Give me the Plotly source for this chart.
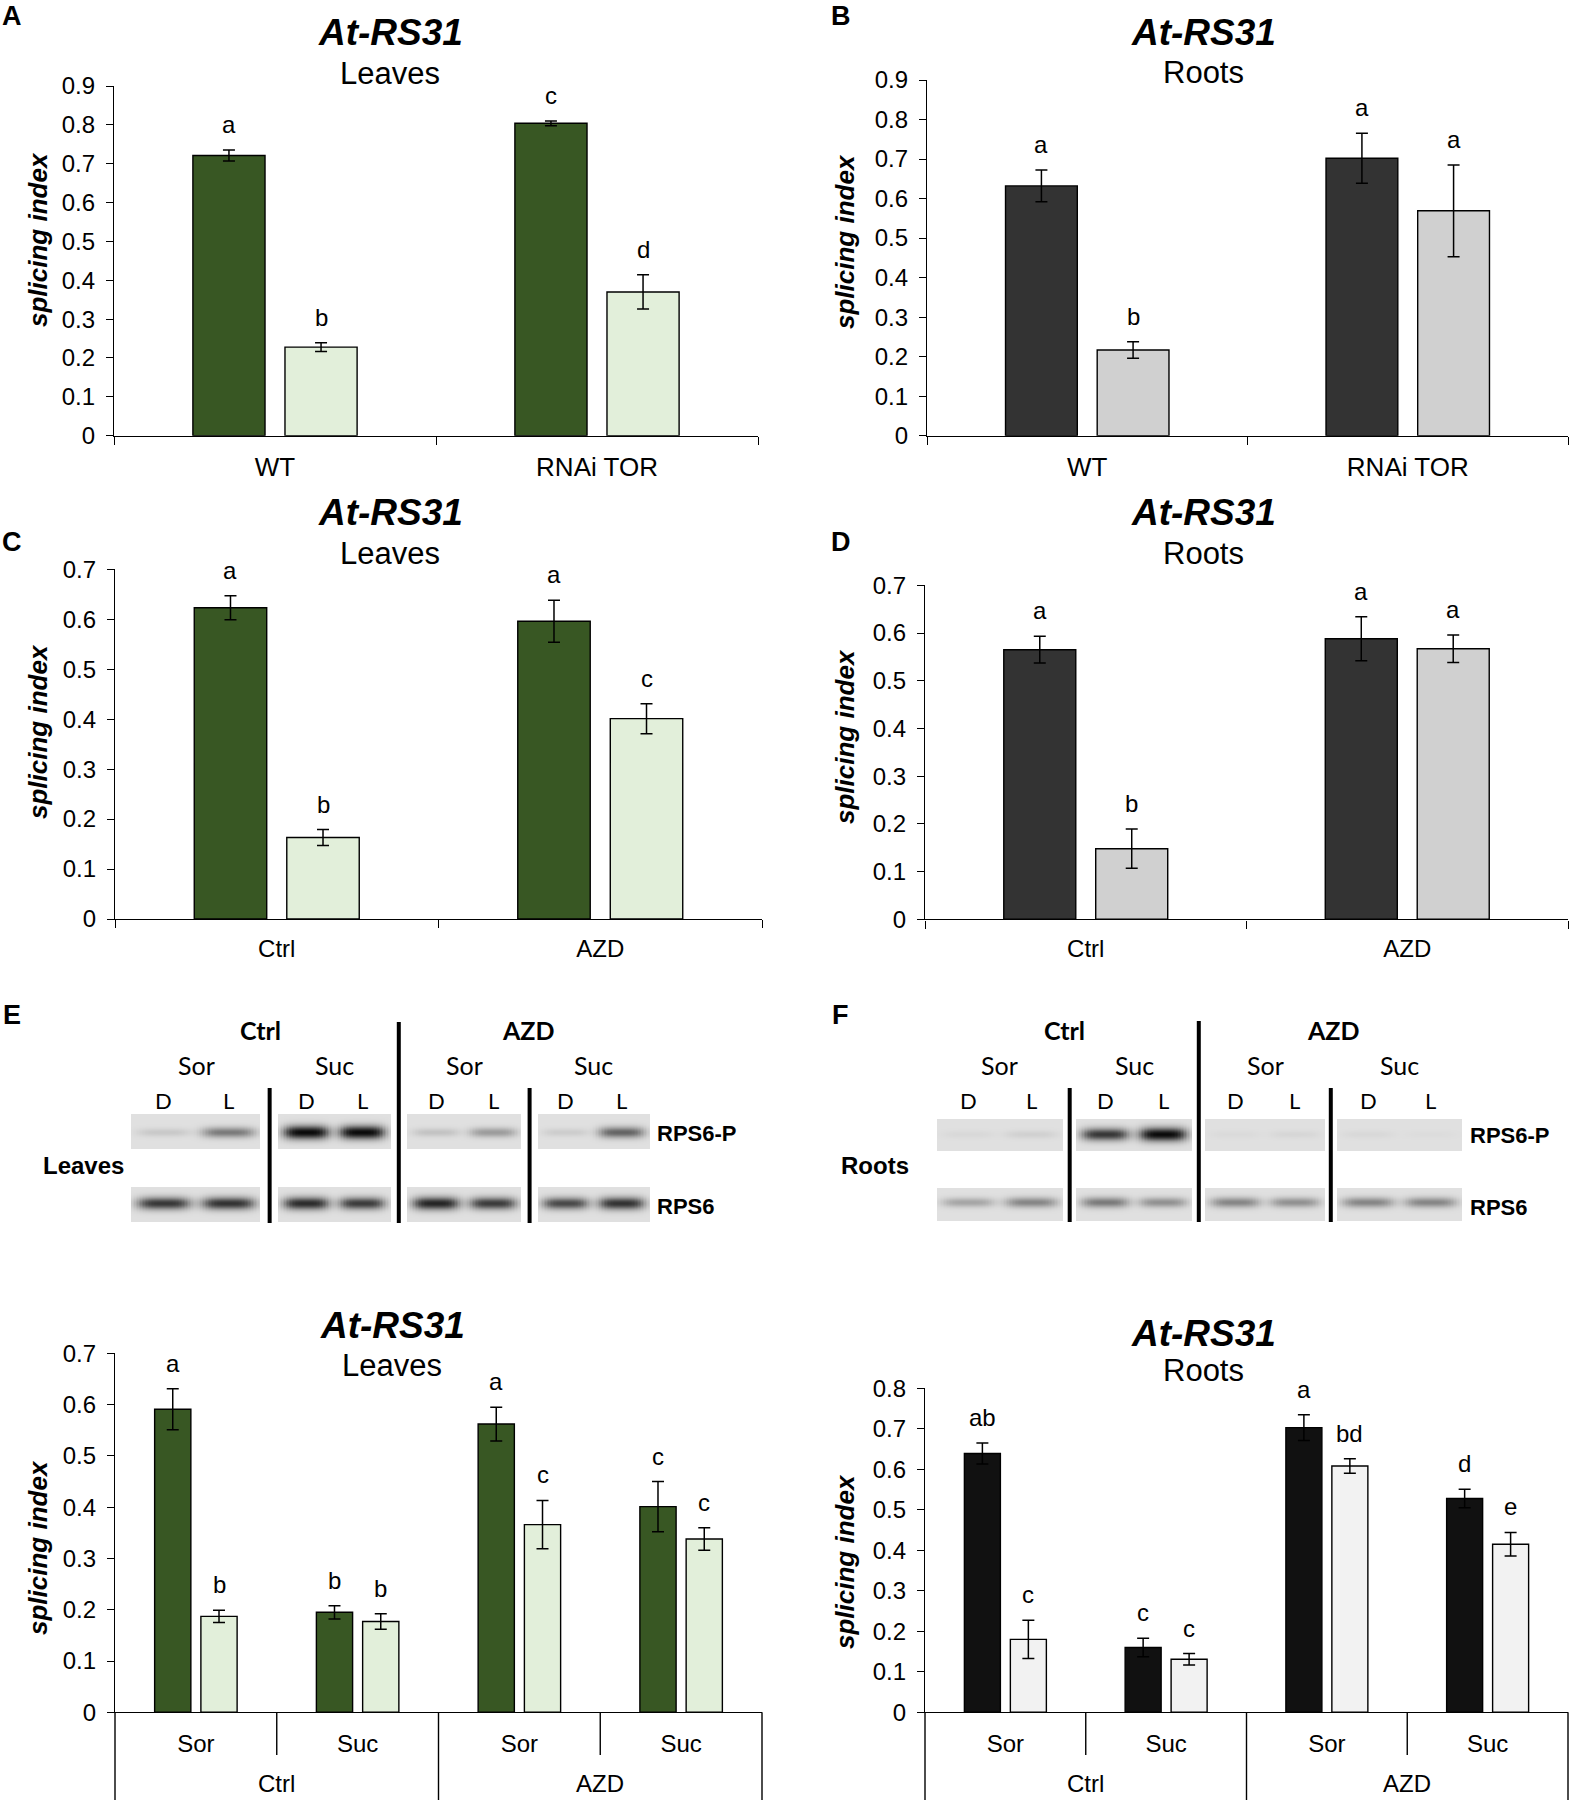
import numpy as np
import plotly.graph_objects as go

W, H = 1571, 1800
FONT = "Liberation Sans, Arial, sans-serif"
BLOT_FONT = "Lato, Open Sans, sans-serif"

# ---------------- data ----------------
# A / B : WT vs RNAi TOR
genotypes = ["WT", "RNAi TOR"]
a_dark = [0.721, 0.804]
a_dark_err = [0.014, 0.006]
a_light = [0.228, 0.370]
a_light_err = [0.011, 0.044]
a_let_dark = ["a", "c"]
a_let_light = ["b", "d"]

b_dark = [0.632, 0.702]
b_dark_err = [0.040, 0.063]
b_light = [0.217, 0.569]
b_light_err = [0.021, 0.116]
b_let_dark = ["a", "a"]
b_let_light = ["b", "a"]

# C / D : Ctrl vs AZD
treatments = ["Ctrl", "AZD"]
c_dark = [0.623, 0.596]
c_dark_err = [0.024, 0.042]
c_light = [0.163, 0.401]
c_light_err = [0.016, 0.030]
c_let_dark = ["a", "a"]
c_let_light = ["b", "c"]

d_dark = [0.565, 0.588]
d_dark_err = [0.028, 0.046]
d_light = [0.148, 0.567]
d_light_err = [0.041, 0.029]
d_let_dark = ["a", "a"]
d_let_light = ["b", "a"]

# E / F : sugar treatments
sugar_cats = ["Ctrl Sor", "Ctrl Suc", "AZD Sor", "AZD Suc"]
sugar_labels = ["Sor", "Suc", "Sor", "Suc"]
sugar_groups = ["Ctrl", "AZD"]

e_dark = [0.591, 0.195, 0.562, 0.401]
e_dark_err = [0.040, 0.013, 0.033, 0.049]
e_light = [0.187, 0.177, 0.366, 0.338]
e_light_err = [0.012, 0.015, 0.047, 0.022]
e_let_dark = ["a", "b", "a", "c"]
e_let_light = ["b", "b", "c", "c"]

f_dark = [0.639, 0.160, 0.703, 0.528]
f_dark_err = [0.026, 0.023, 0.032, 0.023]
f_light = [0.180, 0.131, 0.608, 0.415]
f_light_err = [0.047, 0.014, 0.018, 0.029]
f_let_dark = ["ab", "c", "a", "d"]
f_let_light = ["c", "c", "bd", "e"]

# western blots: band darkness per lane (Ctrl Sor D/L, Ctrl Suc D/L, AZD Sor D/L, AZD Suc D/L)
blot_lanes = ["D", "L", "D", "L", "D", "L", "D", "L"]
blot_rows = ["RPS6-P", "RPS6"]
leaves_rps6p = [0.12, 0.50, 1.00, 1.00, 0.15, 0.35, 0.10, 0.60]
leaves_rps6 = [0.80, 0.82, 0.85, 0.78, 0.88, 0.78, 0.72, 0.82]
roots_rps6p = [0.04, 0.08, 0.80, 1.00, 0.03, 0.05, 0.04, 0.02]
roots_rps6 = [0.30, 0.45, 0.50, 0.40, 0.45, 0.40, 0.45, 0.45]

# ---------------- styling ----------------
GREEN_DARK, GREEN_LIGHT = "#385723", "#e2efda"
GREY_DARK, GREY_LIGHT = "#333333", "#d0d0d0"
BLACK_DARK, WHITE_LIGHT = "#111111", "#f2f2f2"

BAR_W = 0.224
BAR_GAP = 0.062
DARK_OFF = -(2 * BAR_W + BAR_GAP) / 2
LIGHT_OFF = BAR_GAP / 2


def px(x):
    return x / W


def py(y):
    return 1 - y / H


panels = [
    dict(letter="A", sub="Leaves", cats=genotypes, ticktext=genotypes, tfs=26,
         dark=a_dark, dark_err=a_dark_err, light=a_light, light_err=a_light_err,
         ld=a_let_dark, ll=a_let_light, colors=(GREEN_DARK, GREEN_LIGHT),
         xdom=(114, 758), ydom=(435.7, 86), ymax=0.9,
         lpos=(12, 16), tpos=(390, 33), spos=(390, 73), ypos=(38, 240)),
    dict(letter="B", sub="Roots", cats=genotypes, ticktext=genotypes, tfs=26,
         dark=b_dark, dark_err=b_dark_err, light=b_light, light_err=b_light_err,
         ld=b_let_dark, ll=b_let_light, colors=(GREY_DARK, GREY_LIGHT),
         xdom=(927, 1568), ydom=(435.7, 80), ymax=0.9,
         lpos=(841, 16), tpos=(1203, 33), spos=(1203, 72), ypos=(845, 242)),
    dict(letter="C", sub="Leaves", cats=treatments, ticktext=treatments, tfs=24,
         dark=c_dark, dark_err=c_dark_err, light=c_light, light_err=c_light_err,
         ld=c_let_dark, ll=c_let_light, colors=(GREEN_DARK, GREEN_LIGHT),
         xdom=(115, 762), ydom=(919, 569.3), ymax=0.7,
         lpos=(12, 542), tpos=(390, 513), spos=(390, 553), ypos=(38, 732)),
    dict(letter="D", sub="Roots", cats=treatments, ticktext=treatments, tfs=24,
         dark=d_dark, dark_err=d_dark_err, light=d_light, light_err=d_light_err,
         ld=d_let_dark, ll=d_let_light, colors=(GREY_DARK, GREY_LIGHT),
         xdom=(925, 1568), ydom=(919.3, 585.3), ymax=0.7,
         lpos=(841, 542), tpos=(1203, 513), spos=(1203, 553), ypos=(845, 737)),
    dict(letter="E", sub="Leaves", cats=sugar_cats, ticktext=sugar_labels, tfs=24,
         dark=e_dark, dark_err=e_dark_err, light=e_light, light_err=e_light_err,
         ld=e_let_dark, ll=e_let_light, colors=(GREEN_DARK, GREEN_LIGHT),
         xdom=(115, 762), ydom=(1712.3, 1353.3), ymax=0.7,
         lpos=(12, 1015), tpos=(392, 1325), spos=(392, 1365), ypos=(38, 1548)),
    dict(letter="F", sub="Roots", cats=sugar_cats, ticktext=sugar_labels, tfs=24,
         dark=f_dark, dark_err=f_dark_err, light=f_light, light_err=f_light_err,
         ld=f_let_dark, ll=f_let_light, colors=(BLACK_DARK, WHITE_LIGHT),
         xdom=(925, 1568), ydom=(1712.3, 1388.3), ymax=0.8,
         lpos=(841, 1015), tpos=(1203, 1333), spos=(1203, 1370), ypos=(845, 1562)),
]

fig = go.Figure()
annotations = []
shapes = []
layout = {}


def text(x, y, s, size, bold=False, italic=False, angle=0, xanchor="center",
         yanchor="middle", family=FONT):
    if italic:
        s = "<i>" + s + "</i>"
    if bold:
        s = "<b>" + s + "</b>"
    annotations.append(dict(x=px(x), y=py(y), xref="paper", yref="paper", text=s,
                            showarrow=False, textangle=angle, xanchor=xanchor, yanchor=yanchor,
                            font=dict(family=family, size=size, color="black")))


for k, p in enumerate(panels, start=1):
    xa = "x" if k == 1 else f"x{k}"
    ya = "y" if k == 1 else f"y{k}"
    n = len(p["cats"])
    multi = p["cats"] is sugar_cats

    for vals, errs, off, col, lets in (
        (p["dark"], p["dark_err"], DARK_OFF, p["colors"][0], p["ld"]),
        (p["light"], p["light_err"], LIGHT_OFF, p["colors"][1], p["ll"]),
    ):
        fig.add_trace(go.Bar(
            x=p["cats"], y=vals, width=BAR_W, offset=off,
            marker=dict(color=col, line=dict(color="black", width=1.4)),
            error_y=dict(type="data", array=errs, color="black", thickness=1.5, width=6),
            xaxis=xa, yaxis=ya, hoverinfo="skip", showlegend=False,
        ))
        for i, (v, e, s) in enumerate(zip(vals, errs, lets)):
            annotations.append(dict(x=i + off + BAR_W / 2, y=v + e, xref=xa, yref=ya, text=s,
                                    showarrow=False, yanchor="bottom", yshift=10,
                                    font=dict(family=FONT, size=24, color="black")))

    x0, x1 = p["xdom"]
    yb, yt = p["ydom"]
    xaxis = dict(domain=[px(x0), px(x1)], anchor=ya, type="category", range=[-0.5, n - 0.5],
                 showline=True, linecolor="black", linewidth=1.4, showgrid=False, zeroline=False,
                 tickvals=p["cats"], ticktext=p["ticktext"], automargin=False,
                 tickfont=dict(family=FONT, size=p["tfs"], color="black"), fixedrange=True)
    if multi:
        xaxis.update(ticks="", ticklabelstandoff=10)
    else:
        xaxis.update(ticks="outside", tickson="boundaries", ticklen=8, tickwidth=1.4,
                     tickcolor="black", ticklabelstandoff=8)
    yaxis = dict(domain=[py(yb), py(yt)], anchor=xa, range=[0, p["ymax"]], dtick=0.1, tick0=0,
                 ticks="outside", ticklen=7, tickwidth=1.4, tickcolor="black",
                 showline=True, linecolor="black", linewidth=1.4, showgrid=False, zeroline=False,
                 ticklabelstandoff=6, automargin=False,
                 tickfont=dict(family=FONT, size=24, color="black"), fixedrange=True)
    layout["xaxis" if k == 1 else f"xaxis{k}"] = xaxis
    layout["yaxis" if k == 1 else f"yaxis{k}"] = yaxis

    # titles
    text(*p["lpos"], p["letter"], 27, bold=True)
    text(*p["tpos"], "At-RS31", 37, bold=True, italic=True)
    text(*p["spos"], p["sub"], 31)
    text(*p["ypos"], "splicing index", 26, bold=True, italic=True, angle=-90)

    if multi:
        cw = (x1 - x0) / n
        for j in range(n + 1):
            xb = x0 + j * cw
            bottom = H if j % 2 == 0 else 1755
            shapes.append(dict(type="line", xref="paper", yref="paper",
                               x0=px(xb), x1=px(xb), y0=py(yb), y1=py(bottom),
                               line=dict(color="black", width=1.4)))
        for g, name in enumerate(sugar_groups):
            text(x0 + (2 * g + 1) * cw, 1783, name, 24)

# ---------------- western blots ----------------
blots = [
    dict(boxes=[(131.6, 260.8), (278.5, 390), (407.6, 521.5), (537.7, 649.6)],
         rows=[(1114, 1148), (1187, 1221)], bands=[1132, 1203],
         intens=[leaves_rps6p, leaves_rps6], tissue="Leaves", tpos=(83, 1165),
         rlabel_x=655, rlabel_y=[1133, 1206], sep_top=1088, mid_top=1022, sep_bot=1223),
    dict(boxes=[(936.7, 1063), (1076.4, 1192), (1205.6, 1324.8), (1336.8, 1462)],
         rows=[(1119, 1150), (1188, 1220)], bands=[1134, 1202],
         intens=[roots_rps6p, roots_rps6], tissue="Roots", tpos=(875, 1165),
         rlabel_x=1468, rlabel_y=[1135, 1207], sep_top=1088, mid_top=1021, sep_bot=1222),
]

xs = np.arange(120, 1475, 1.5)
ys = np.arange(1105, 1230, 1.0)
z = np.full((len(ys), len(xs)), np.nan)
for b in blots:
    for bi, (bx0, bx1) in enumerate(b["boxes"]):
        bw = bx1 - bx0
        cx = (bx0 + bx1) / 2
        lane_x = [cx - bw / 4, cx + bw / 4]
        mx = (xs >= bx0) & (xs <= bx1)
        for ri, (ry0, ry1) in enumerate(b["rows"]):
            my = (ys >= ry0) & (ys <= ry1)
            block = np.zeros((my.sum(), mx.sum()))
            for li in range(2):
                v = b["intens"][ri][2 * bi + li]
                hx = np.exp(-((xs[mx] - lane_x[li]) / (0.21 * bw)) ** 4)
                vy = np.exp(-((ys[my] - b["bands"][ri]) / (3.8 + 3.2 * v)) ** 2)
                block += v * np.outer(vy, hx)
            z[np.ix_(my, mx)] = np.clip(block, 0, 1)

    # labels
    boxes = b["boxes"]
    centers = [(a + c) / 2 for a, c in boxes]
    for g, name in enumerate(sugar_groups):
        text((boxes[2 * g][0] + boxes[2 * g + 1][1]) / 2, 1030, name, 25, bold=True,
             family=BLOT_FONT)
    for bi, c in enumerate(centers):
        text(c, 1065, sugar_labels[bi], 25, family=BLOT_FONT)
        bw = boxes[bi][1] - boxes[bi][0]
        text(c - bw / 4, 1100, blot_lanes[2 * bi], 22, family=BLOT_FONT)
        text(c + bw / 4, 1100, blot_lanes[2 * bi + 1], 22, family=BLOT_FONT)
    for r, lab in enumerate(blot_rows):
        text(b["rlabel_x"], b["rlabel_y"][r], lab, 22, bold=True, xanchor="left")
    text(*b["tpos"], b["tissue"], 24, bold=True)
    for j in range(3):
        xs_ = (boxes[j][1] + boxes[j + 1][0]) / 2
        top = b["mid_top"] if j == 1 else b["sep_top"]
        shapes.append(dict(type="line", xref="paper", yref="paper",
                           x0=px(xs_), x1=px(xs_), y0=py(top), y1=py(b["sep_bot"]),
                           line=dict(color="black", width=4)))

fig.add_trace(go.Heatmap(
    x=xs, y=ys, z=z, zmin=0, zmax=1, showscale=False, hoverinfo="skip",
    colorscale=[[0, "#e0e0e0"], [0.35, "#9c9c9c"], [1, "#0a0a0a"]],
    xaxis="x7", yaxis="y7",
))
layout["xaxis7"] = dict(domain=[0, 1], range=[0, W], visible=False, fixedrange=True,
                        anchor="y7", automargin=False)
layout["yaxis7"] = dict(domain=[py(1230), py(1105)], range=[1230, 1105], visible=False,
                        fixedrange=True, anchor="x7", automargin=False)

fig.update_layout(
    width=W, height=H, margin=dict(l=0, r=0, t=0, b=0, autoexpand=False),
    paper_bgcolor="white", plot_bgcolor="white",
    barmode="overlay", showlegend=False,
    font=dict(family=FONT, color="black"),
    annotations=annotations, shapes=shapes, **layout,
)

# the page body has a default 8px margin; drop it so the figure fills the window exactly
fig.write_html("out.html", config={"displayModeBar": False},
               post_script="document.body.style.margin='0px';document.body.style.overflow='hidden';")
